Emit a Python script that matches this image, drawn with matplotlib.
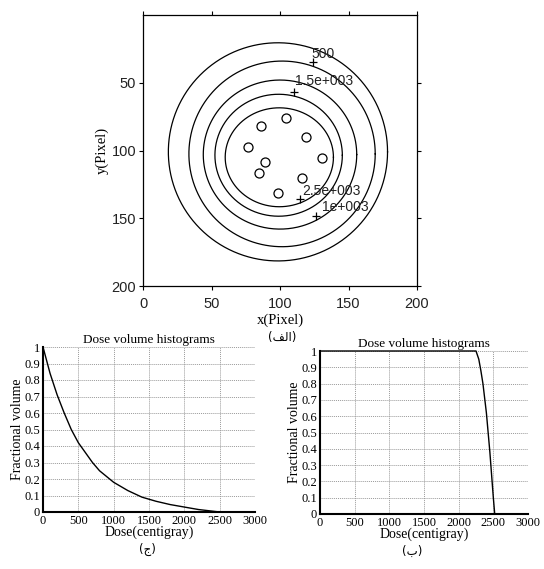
import numpy as np
import matplotlib
matplotlib.use("Agg")
import matplotlib.pyplot as plt

# ---------------- data ----------------
# isodose contours (ellipse approximations)
contour_cx = [98.5, 101.5, 100.0, 99.0, 99.5]
contour_cy = [101.0, 102.5, 103.0, 103.5, 105.0]
contour_rx = [80.0, 68.0, 56.0, 46.5, 39.5]
contour_ry = [80.5, 68.5, 55.0, 45.0, 36.5]

# contour labels: marker point and text
label_texts = ["500", "1.5e+003", "2.5e+003", "1e+003"]
label_mark_x = [124.0, 110.0, 114.5, 126.5]
label_mark_y = [35.0, 56.5, 136.0, 148.0]
label_text_x = [123.0, 111.0, 116.0, 131.0]
label_text_y = [28.5, 49.0, 130.0, 142.0]

# seed positions
seed_x = [104.1, 85.9, 119.0, 76.9, 130.4, 89.1, 84.9, 116.3, 98.8]
seed_y = [76.3, 81.7, 89.8, 97.7, 105.3, 108.3, 116.8, 120.5, 131.6]

top_xticks = [0, 50, 100, 150, 200]
top_yticks = [50, 100, 150, 200]

# DVH curves
dvh1_dose = [0, 100, 200, 300, 400, 500, 600, 700, 800, 1000, 1200, 1400,
             1600, 1800, 2000, 2200, 2400, 2500]
dvh1_vol = [1.0, 0.84, 0.71, 0.60, 0.50, 0.42, 0.36, 0.30, 0.25, 0.18, 0.13,
            0.09, 0.065, 0.045, 0.03, 0.015, 0.005, 0.0]

dvh2_dose = [0, 2250, 2290, 2320, 2350, 2400, 2450, 2500, 2520]
dvh2_vol = [1.0, 1.0, 0.95, 0.88, 0.80, 0.62, 0.38, 0.10, 0.0]

dvh_xticks = [0, 500, 1000, 1500, 2000, 2500, 3000]
dvh_yticks = [0, 0.1, 0.2, 0.3, 0.4, 0.5, 0.6, 0.7, 0.8, 0.9, 1.0]
dvh_ytick_labels = ["0", "0.1", "0.2", "0.3", "0.4", "0.5", "0.6", "0.7",
                    "0.8", "0.9", "1"]

# ---------------- figure ----------------
W, H = 544, 569
fig = plt.figure(figsize=(W / 100, H / 100), dpi=100)
fig.patch.set_facecolor("white")

SANS = "Liberation Sans"
SERIF = "Liberation Serif"
ARAB = ["DejaVu Sans"]


def fig_rect(x0, y0, x1, y1):
    return [x0 / W, 1 - y1 / H, (x1 - x0) / W, (y1 - y0) / H]


# ---- top plot ----
ax = fig.add_axes(fig_rect(143, 15, 417, 286))
t = np.linspace(0, 2 * np.pi, 400)
for cx, cy, rx, ry in zip(contour_cx, contour_cy, contour_rx, contour_ry):
    ax.plot(cx + rx * np.cos(t), cy + ry * np.sin(t), color="black", lw=0.9)
ax.plot(seed_x, seed_y, linestyle="none", marker="o", markersize=6.5,
        markerfacecolor="white", markeredgecolor="black", markeredgewidth=0.9)
ax.plot(label_mark_x, label_mark_y, linestyle="none", marker="+",
        markersize=6, color="black", markeredgewidth=0.9)
for tx, ty, s in zip(label_text_x, label_text_y, label_texts):
    ax.text(tx, ty, s, fontsize=10, family=SANS, color="#222222",
            ha="left", va="center")
ax.set_xlim(0, 200)
ax.set_ylim(200, 0)
ax.set_xticks(top_xticks)
ax.set_yticks(top_yticks)
ax.tick_params(direction="out", length=3, width=0.8, top=True, right=True,
               labelsize=10.5, pad=2)
ax.tick_params(axis="x", pad=5)
for lab in ax.get_xticklabels() + ax.get_yticklabels():
    lab.set_family(SANS)
    lab.set_color("#222222")
for sp in ax.spines.values():
    sp.set_linewidth(0.9)
ax.set_xlabel("x(Pixel)", family=SERIF, fontsize=10.5, labelpad=2)
ax.set_ylabel("y(Pixel)", family=SERIF, fontsize=10.5, labelpad=2)
fig.text(282 / W, 1 - 337 / H, "(\uFED2\uFEDF\uFE8D)", family=ARAB,
         fontsize=8.5, ha="center", va="center")


# ---- DVH plots ----
def dvh_axes(rect, dose, vol, title):
    a = fig.add_axes(rect)
    a.plot(dose, vol, color="black", lw=1.0, clip_on=False, zorder=3)
    a.set_xlim(0, 3000)
    a.set_ylim(0, 1)
    a.set_xticks(dvh_xticks)
    a.set_yticks(dvh_yticks)
    a.set_yticklabels(dvh_ytick_labels)
    a.grid(True, color="#9a9a9a", linestyle=(0, (1, 1)), lw=0.7)
    a.set_axisbelow(True)
    a.tick_params(length=0, labelsize=9, pad=2)
    for lab in a.get_xticklabels() + a.get_yticklabels():
        lab.set_family(SERIF)
    a.spines["top"].set_visible(False)
    a.spines["right"].set_visible(False)
    a.spines["left"].set_linewidth(1.5)
    a.spines["bottom"].set_linewidth(1.5)
    a.set_title(title, family=SERIF, fontsize=9.5, pad=3)
    a.set_xlabel("Dose(centigray)", family=SERIF, fontsize=10, labelpad=-1)
    a.set_ylabel("Fractional volume", family=SERIF, fontsize=10, labelpad=0)
    return a


dvh_axes(fig_rect(43, 347, 255, 512), dvh1_dose, dvh1_vol,
         "Dose volume histograms")
fig.text(147 / W, 1 - 549 / H, "(\uFE9D)", family=ARAB, fontsize=8.5,
         ha="center", va="center")

dvh_axes(fig_rect(320, 351, 528, 514), dvh2_dose, dvh2_vol,
         "Dose volume histograms")
fig.text(412 / W, 1 - 551 / H, "(\uFE8F)", family=ARAB, fontsize=8.5,
         ha="center", va="center")

fig.savefig("out.png", dpi=100)
